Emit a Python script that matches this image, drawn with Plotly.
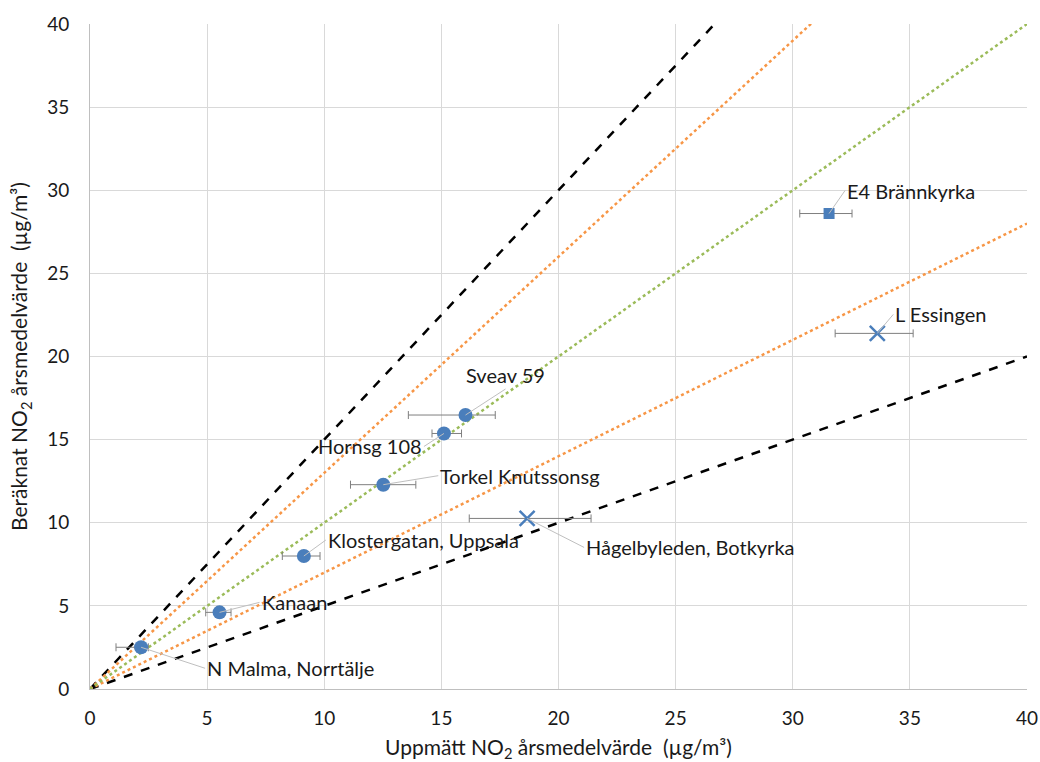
import plotly.graph_objects as go

# Data
names = ["N Malma, Norrtälje", "Kanaan", "Klostergatan, Uppsala", "Torkel Knutssonsg",
         "Hornsg 108", "Sveav 59"]
meas = [2.18, 5.53, 9.13, 12.52, 15.11, 16.03]
calc = [2.51, 4.61, 8.00, 12.29, 15.37, 16.48]
err_lo = [1.11, 4.94, 8.21, 11.12, 14.60, 13.59]
err_hi = [2.49, 6.02, 9.82, 13.91, 15.86, 17.30]

sq_names = ["E4 Brännkyrka"]
sq_meas = [31.55]
sq_calc = [28.60]
sq_lo = [30.30]
sq_hi = [32.53]

x_names = ["L Essingen", "Hågelbyleden, Botkyrka"]
x_meas = [33.61, 18.66]
x_calc = [21.39, 10.26]
x_lo = [31.81, 16.19]
x_hi = [35.14, 21.39]

# reference lines (slope), style
black_slopes = [1.5, 0.5]
orange_slopes = [1.3, 0.7]
green_slopes = [1.0]
line_x = [0, 40]

# label offsets (pixels) and anchors
label_style = {
    "N Malma, Norrtälje": (64, 21, "left", "middle"),
    "Kanaan": (40, -10, "left", "middle"),
    "Klostergatan, Uppsala": (22, -16, "left", "middle"),
    "Torkel Knutssonsg": (55, -9, "left", "middle"),
    "Hornsg 108": (-20, 13, "right", "middle"),
    "Sveav 59": (40, -26, "center", "bottom"),
    "E4 Brännkyrka": (16, -23, "left", "middle"),
    "L Essingen": (16, -19, "left", "middle"),
    "Hågelbyleden, Botkyrka": (57, 29, "left", "middle"),
}

FONT = "Lato"
BLUE = "#4a7ebb"
ORANGE = "#f79646"
GREEN = "#9bbb59"
ERR = "#7f7f7f"

fig = go.Figure()

for s in black_slopes:
    fig.add_trace(go.Scatter(x=line_x, y=[s * v for v in line_x], mode="lines",
                             line=dict(color="black", width=2.5, dash="dash"),
                             hoverinfo="skip"))
for s in orange_slopes:
    fig.add_trace(go.Scatter(x=line_x, y=[s * v for v in line_x], mode="lines",
                             line=dict(color=ORANGE, width=2.5, dash="dot"),
                             hoverinfo="skip"))
for s in green_slopes:
    fig.add_trace(go.Scatter(x=line_x, y=[s * v for v in line_x], mode="lines",
                             line=dict(color=GREEN, width=2.5, dash="dot"),
                             hoverinfo="skip"))


def err(xs, lo, hi):
    return dict(type="data", symmetric=False,
                array=[h - x for h, x in zip(hi, xs)],
                arrayminus=[x - l for x, l in zip(xs, lo)],
                color=ERR, thickness=1, width=4)


fig.add_trace(go.Scatter(x=meas, y=calc, mode="markers",
                         marker=dict(color=BLUE, size=14, symbol="circle"),
                         error_x=err(meas, err_lo, err_hi)))
fig.add_trace(go.Scatter(x=sq_meas, y=sq_calc, mode="markers",
                         marker=dict(color=BLUE, size=11, symbol="square"),
                         error_x=err(sq_meas, sq_lo, sq_hi)))
fig.add_trace(go.Scatter(x=x_meas, y=x_calc, mode="markers",
                         marker=dict(color=BLUE, size=15, symbol="x-thin",
                                     line=dict(color=BLUE, width=2.5)),
                         error_x=err(x_meas, x_lo, x_hi)))

for nm, xv, yv in list(zip(names, meas, calc)) + list(zip(sq_names, sq_meas, sq_calc)) + \
        list(zip(x_names, x_meas, x_calc)):
    ax, ay, xa, ya = label_style[nm]
    fig.add_annotation(x=xv, y=yv, text=nm, showarrow=True, arrowhead=0,
                       arrowwidth=1, arrowcolor="#bfbfbf", ax=ax, ay=ay,
                       xanchor=xa, yanchor=ya, standoff=0,
                       font=dict(family=FONT, size=20, color="#1a1a1a"))

axis_common = dict(range=[0, 40], dtick=5, showgrid=True, gridcolor="#d9d9d9",
                   gridwidth=1, zeroline=False, showline=True, linecolor="#bfbfbf",
                   ticks="", automargin=False,
                   tickfont=dict(family=FONT, size=19, color="#1a1a1a"),
                   title_font=dict(family=FONT, size=21, color="#1a1a1a"))

fig.update_layout(
    width=1040, height=762,
    margin=dict(l=90, r=13, t=24, b=73),
    plot_bgcolor="white", paper_bgcolor="white",
    showlegend=False,
    xaxis=dict(**axis_common,
               title=dict(text="Uppmätt NO<sub>2</sub> årsmedelvärde  (µg/m³)", standoff=13),
               ticklabelstandoff=12),
    yaxis=dict(**axis_common,
               title=dict(text="Beräknat NO<sub>2</sub> årsmedelvärde  (µg/m³)", standoff=13),
               ticklabelstandoff=16),
)

# remove the default page margin so the figure sits at the window's top-left corner
fig.write_html("out.html",
               config={"displayModeBar": False},
               post_script="document.body.style.margin='0';document.body.style.overflow='hidden';")
